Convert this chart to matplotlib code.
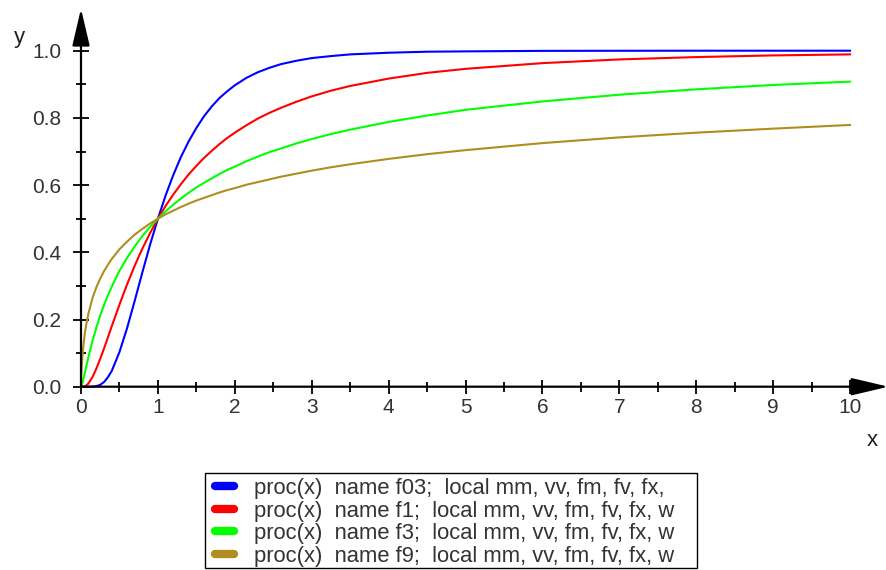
import matplotlib
matplotlib.use("Agg")
import matplotlib.pyplot as plt
from matplotlib.lines import Line2D
from matplotlib.patches import ArrowStyle, Rectangle

plt.rcParams["font.family"] = ["Liberation Sans", "DejaVu Sans"]

# values
x = [0, 0.002, 0.005, 0.01, 0.02, 0.03, 0.05, 0.075, 0.1, 0.15, 0.2, 0.25, 0.3, 0.35, 0.4,
     0.5, 0.6, 0.7, 0.8, 0.9, 1.0, 1.1, 1.2, 1.3, 1.4, 1.5, 1.6, 1.7, 1.8, 1.9, 2.0,
     2.15, 2.3, 2.45, 2.6, 2.8, 3.0, 3.25, 3.5, 4, 4.5, 5, 6, 7, 8, 9, 10]
f03 = [0, 0, 0, 0, 0, 0, 0, 0, 0.0, 0.0003, 0.0016, 0.0057, 0.014, 0.028, 0.047,
       0.103, 0.175, 0.257, 0.342, 0.424, 0.5, 0.569, 0.630, 0.684, 0.730, 0.770, 0.805, 0.834, 0.859, 0.879, 0.897,
       0.919, 0.936, 0.949, 0.960, 0.970, 0.978, 0.984, 0.989, 0.994, 0.997, 0.998, 0.9995, 0.9998, 1.0, 1.0, 1.0]
f1 = [0, 0, 0, 0, 0, 0.0002, 0.0013, 0.0048, 0.0107, 0.029, 0.054, 0.083, 0.114, 0.147, 0.180,
      0.244, 0.305, 0.361, 0.412, 0.458, 0.5, 0.538, 0.572, 0.603, 0.632, 0.657, 0.681, 0.702, 0.722, 0.740, 0.756,
      0.778, 0.798, 0.815, 0.830, 0.848, 0.864, 0.881, 0.895, 0.917, 0.934, 0.946, 0.963, 0.974, 0.981, 0.986, 0.989]
f3 = [0, 0.0002, 0.0011, 0.0039, 0.012, 0.021, 0.042, 0.067, 0.092, 0.137, 0.176, 0.212, 0.244, 0.272, 0.298,
      0.345, 0.384, 0.418, 0.449, 0.476, 0.5, 0.522, 0.542, 0.560, 0.577, 0.593, 0.607, 0.620, 0.633, 0.645, 0.655,
      0.671, 0.685, 0.698, 0.709, 0.724, 0.737, 0.752, 0.765, 0.788, 0.807, 0.824, 0.849, 0.869, 0.885, 0.898, 0.908]
f9 = [0, 0.019, 0.039, 0.062, 0.096, 0.121, 0.159, 0.194, 0.221, 0.264, 0.296, 0.322, 0.344, 0.363, 0.380,
      0.409, 0.432, 0.453, 0.470, 0.486, 0.5, 0.513, 0.524, 0.535, 0.545, 0.554, 0.562, 0.570, 0.578, 0.585, 0.591,
      0.601, 0.609, 0.617, 0.625, 0.634, 0.643, 0.653, 0.662, 0.678, 0.692, 0.704, 0.725, 0.742, 0.756, 0.768, 0.779]

labels = ["proc(x)  name f03;  local mm, vv, fm, fv, fx,",
          "proc(x)  name f1;  local mm, vv, fm, fv, fx, w",
          "proc(x)  name f3;  local mm, vv, fm, fv, fx, w",
          "proc(x)  name f9;  local mm, vv, fm, fv, fx, w"]
colors = ["#0000ff", "#ff0000", "#00ff00", "#ae8e1e"]

W, H = 886, 570
fig = plt.figure(figsize=(W / 100, H / 100), dpi=100)
ax = fig.add_axes([81 / W, (H - 386.7) / H, (850 - 81) / W, 336 / H])
ax.set_xlim(0, 10)
ax.set_ylim(0, 1)

for ys, c in zip([f03, f1, f3, f9], colors):
    ax.plot(x, ys, color=c, lw=1.5, clip_on=False)

for s in ax.spines.values():
    s.set_visible(False)

# axis lines with arrow heads
arr = ArrowStyle("-|>", head_length=23, head_width=5.4)
ax.annotate("", xy=(0, 1.125), xytext=(0, 0), xycoords="data",
            arrowprops=dict(arrowstyle=arr, color="black", lw=1.6, shrinkA=0, shrinkB=0,
                            mutation_scale=1), annotation_clip=False)
ax.annotate("", xy=(10.5, 0), xytext=(0, 0), xycoords="data",
            arrowprops=dict(arrowstyle=arr, color="black", lw=1.6, shrinkA=0, shrinkB=0,
                            mutation_scale=1), annotation_clip=False)

ax.set_xticks(range(11))
ax.set_xticks([i + 0.5 for i in range(10)], minor=True)
ax.set_yticks([0, 0.2, 0.4, 0.6, 0.8, 1.0])
ax.set_yticklabels(["0.0", "0.2", "0.4", "0.6", "0.8", "1.0"])
ax.set_yticks([0.1, 0.3, 0.5, 0.7, 0.9], minor=True)
ax.tick_params(axis="x", which="major", direction="inout", length=9.4, width=1.3,
               pad=3.6, labelsize=15, labelcolor="#333333")
ax.tick_params(axis="x", which="minor", direction="inout", length=7.2, width=1.3)
ax.tick_params(axis="y", which="major", direction="inout", length=12, width=1.3,
               pad=8, labelsize=15, labelcolor="#333333")
ax.tick_params(axis="y", which="minor", direction="inout", length=7.2, width=1.3)

fig.text(19 / W, 1 - 37 / H, "y", fontsize=16, color="#222222", ha="center", va="center")
fig.text(872 / W, 1 - 441 / H, "x", fontsize=16, color="#222222", ha="center", va="center")

# legend box
fig.patches.append(Rectangle((205 / W, 1 - 568 / H), 492 / W, 95 / H, transform=fig.transFigure,
                             facecolor="white", edgecolor="black", lw=1.0))
handles = [Line2D([], [], color=c, lw=6, solid_capstyle="round") for c in colors]
leg = fig.legend(handles, labels, loc="upper left", bbox_to_anchor=(215 / W, 1 - 478 / H),
                 bbox_transform=fig.transFigure, borderaxespad=0, frameon=False,
                 fontsize=15.8, handlelength=0.85, handletextpad=0.95, labelspacing=0.07,
                 borderpad=0)
for t in leg.get_texts():
    t.set_color("#333333")

fig.savefig("out.png", dpi=100)
